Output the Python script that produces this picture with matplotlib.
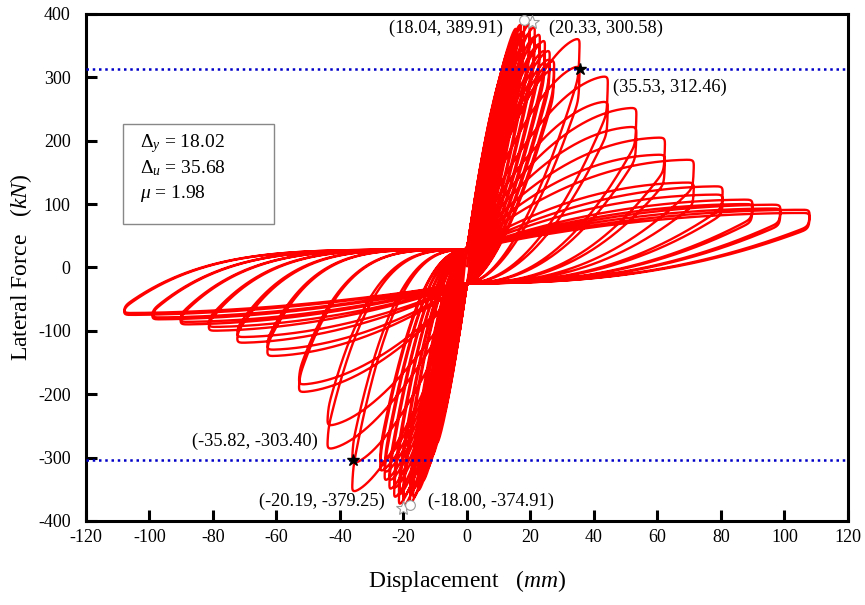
import numpy as np
import matplotlib
matplotlib.use("Agg")
import matplotlib.pyplot as plt
from matplotlib.patches import Rectangle

# ---------------- data ----------------
# peak (tip) of every positive half-cycle, in loading order
pos_disp = [2.0, 3.5, 5.0, 6.5, 8.0, 8.0, 9.5, 9.5, 11.0, 11.0, 12.5, 12.5,
            14.0, 14.0, 15.6, 15.6, 17.0, 17.0, 18.04, 18.04, 19.8, 19.8,
            21.4, 21.4, 23.0, 23.0, 24.6, 24.6, 26.1, 26.1, 27.5, 27.5,
            35.5, 35.5, 44.4, 44.4, 53.4, 53.4, 62.4, 62.4, 71.5, 71.5,
            80.6, 80.6, 90.0, 90.0, 98.8, 98.8, 108.0, 108.0]
pos_force = [70, 115, 160, 200, 240, 228, 275, 262, 305, 292, 330, 316,
             355, 340, 380, 366, 386, 372, 389.91, 375, 386, 372,
             382, 366, 370, 355, 360, 344, 344, 330, 328, 315,
             362, 318, 302, 262, 252, 222, 205, 178, 170, 134,
             128, 115, 107, 100, 99, 93, 91, 86]
# peak of every negative half-cycle
neg_disp = [-2.0, -3.5, -5.0, -6.5, -8.0, -8.0, -9.5, -9.5, -11.0, -11.0, -12.5, -12.5,
            -14.0, -14.0, -15.5, -15.5, -17.0, -17.0, -18.0, -18.0, -20.19, -20.19,
            -21.5, -21.5, -23.0, -23.0, -24.5, -24.5, -26.0, -26.0, -27.4, -27.4,
            -36.2, -36.2, -44.0, -44.0, -53.0, -53.0, -63.0, -63.0, -72.5, -72.5,
            -81.5, -81.5, -90.4, -90.4, -99.3, -99.3, -108.2, -108.2]
neg_force = [-75, -120, -165, -205, -245, -232, -280, -266, -300, -288, -320, -306,
             -340, -326, -355, -341, -366, -352, -374.91, -360, -379.25, -364,
             -376, -361, -365, -350, -352, -338, -338, -325, -323, -310,
             -355, -310, -287, -250, -197, -185, -140, -130, -119, -110,
             -100, -94, -90, -86, -82, -79, -75, -72]
pinch_pos = 28.0    # force where branches cross zero displacement (upper)
pinch_neg = -25.0   # force where branches cross zero displacement (lower)

yield_pos = 312.46
yield_neg = -303.40
star_pts = [(35.53, 312.46), (-35.82, -303.40)]
open_star_pts = [(20.33, 388.0), (-20.19, -379.25)]
open_circ_pts = [(18.04, 389.91), (-18.00, -374.91)]
labels = ["(18.04, 389.91)", "(20.33, 300.58)", "(35.53, 312.46)",
          "(-35.82, -303.40)", "(-20.19, -379.25)", "(-18.00, -374.91)"]

# ---------------- branch drawing model ----------------
def frac(D):
    return min(1.0, abs(D) / 60.0) ** 1.5

def load_branch(y0, D, F, k, n=120):
    t = np.linspace(0, 1, n)
    return D * t, y0 + (F - y0) * (1 - (1 - t) ** k)

def unload_branch(D, F, r, y1, m):
    w = np.r_[np.linspace(0, 0.03, 80), np.linspace(0.03, 1, 160)[1:]]
    s = 1 - w
    q = max(40.0, 5.0 * abs(D))
    x = D * s
    y = y1 + (F - y1) * ((1 - r) * s ** m + r * s ** q)
    return x, y

xs, ys = [], []
y_start = 0.0
for dp, fp, dn, fn in zip(pos_disp, pos_force, neg_disp, neg_force):
    a = frac(dp)
    x, y = load_branch(y_start, dp, fp, 1.25 + 0.8 * a); xs.append(x); ys.append(y)
    x, y = unload_branch(dp, fp, 0.08 + 0.14 * a, pinch_neg, 1.3 + 1.1 * a); xs.append(x); ys.append(y)
    a = frac(dn)
    x, y = load_branch(pinch_neg, dn, fn, 1.25 + 0.6 * a); xs.append(x); ys.append(y)
    x, y = unload_branch(dn, fn, 0.06 + 0.04 * a, pinch_pos, 1.3 + 3.2 * a); xs.append(x); ys.append(y)
    y_start = pinch_pos
X = np.concatenate(xs)
Y = np.concatenate(ys)

# smoothing of corners, done in screen-like units
SX, SY = 762 / 240.0, 507 / 800.0
px, py = X * SX, Y * SY
d = np.hypot(np.diff(px), np.diff(py))
keep = np.r_[True, d > 1e-9]
px, py = px[keep], py[keep]
arc = np.r_[0, np.cumsum(np.hypot(np.diff(px), np.diff(py)))]
step = 0.5
g = np.arange(0, arc[-1], step)
gx, gy = np.interp(g, arc, px), np.interp(g, arc, py)
sig = 3.2 / step
kk = np.arange(-int(4 * sig), int(4 * sig) + 1)
ker = np.exp(-0.5 * (kk / sig) ** 2); ker /= ker.sum()
padn = len(kk) // 2
gx = np.convolve(np.r_[np.full(padn, gx[0]), gx, np.full(padn, gx[-1])], ker, mode="valid")
gy = np.convolve(np.r_[np.full(padn, gy[0]), gy, np.full(padn, gy[-1])], ker, mode="valid")
X, Y = gx / SX, gy / SY

# ---------------- figure ----------------
plt.rcParams["font.family"] = ["Liberation Serif", "DejaVu Serif"]
plt.rcParams["mathtext.fontset"] = "custom"
plt.rcParams["mathtext.rm"] = "Liberation Serif"
plt.rcParams["mathtext.it"] = "Liberation Serif:italic"
plt.rcParams["axes.unicode_minus"] = False

fig = plt.figure(figsize=(8.65, 6.05), dpi=100)
ax = fig.add_axes([0.0994, 0.139, 0.8809, 0.838])

ax.plot(X, Y, color="#ff0000", lw=1.7, zorder=2)
ax.axhline(yield_pos, color="#0000c8", lw=1.8, ls=(0, (1, 1.5)), zorder=3)
ax.axhline(yield_neg, color="#0000c8", lw=1.8, ls=(0, (1, 1.5)), zorder=3)

for (x, y) in star_pts:
    ax.plot(x, y, marker="*", ms=9, color="black", zorder=5)
for (x, y) in open_star_pts:
    ax.plot(x, y, marker="*", ms=10, mfc="white", mec="#999999", mew=0.8, zorder=5)
for (x, y) in open_circ_pts:
    ax.plot(x, y, marker="o", ms=7, mfc="white", mec="#999999", mew=0.8, zorder=5)

fs = 13.2
ax.text(11.3, 377, labels[0], ha="right", va="center", fontsize=fs)
ax.text(25.8, 377, labels[1], ha="left", va="center", fontsize=fs)
ax.text(46.0, 284, labels[2], ha="left", va="center", fontsize=fs)
ax.text(-47.0, -274, labels[3], ha="right", va="center", fontsize=fs)
ax.text(-25.8, -368.6, labels[4], ha="right", va="center", fontsize=fs)
ax.text(-12.3, -368.6, labels[5], ha="left", va="center", fontsize=fs)

ax.add_patch(Rectangle((-108.3, 68), 47.5, 159, fill=False, ec="#888888", lw=1.0, zorder=4))
ax.text(-103, 196, r"$\Delta_{\mathit{y}}$ = 18.02", fontsize=14, va="center")
ax.text(-103, 156, r"$\Delta_{\mathit{u}}$ = 35.68", fontsize=14, va="center")
ax.text(-103, 116, r"$\mathit{\mu}$ = 1.98", fontsize=14, va="center")

ax.set_xlim(-120, 120)
ax.set_ylim(-400, 400)
ax.set_xticks(np.arange(-120, 121, 20))
ax.set_yticks(np.arange(-400, 401, 100))
ax.tick_params(axis="both", direction="in", length=8, width=2.2, labelsize=13,
               top=False, right=False)
ax.tick_params(axis="x", pad=6)
ax.tick_params(axis="y", pad=11)
for sp in ax.spines.values():
    sp.set_linewidth(2.2)
ax.set_xlabel(r"Displacement   $(\mathit{mm})$", fontsize=17, labelpad=16)
ax.set_ylabel(r"Lateral Force   $(\mathit{kN})$", fontsize=17, labelpad=3)

fig.savefig("out.png", dpi=100)
